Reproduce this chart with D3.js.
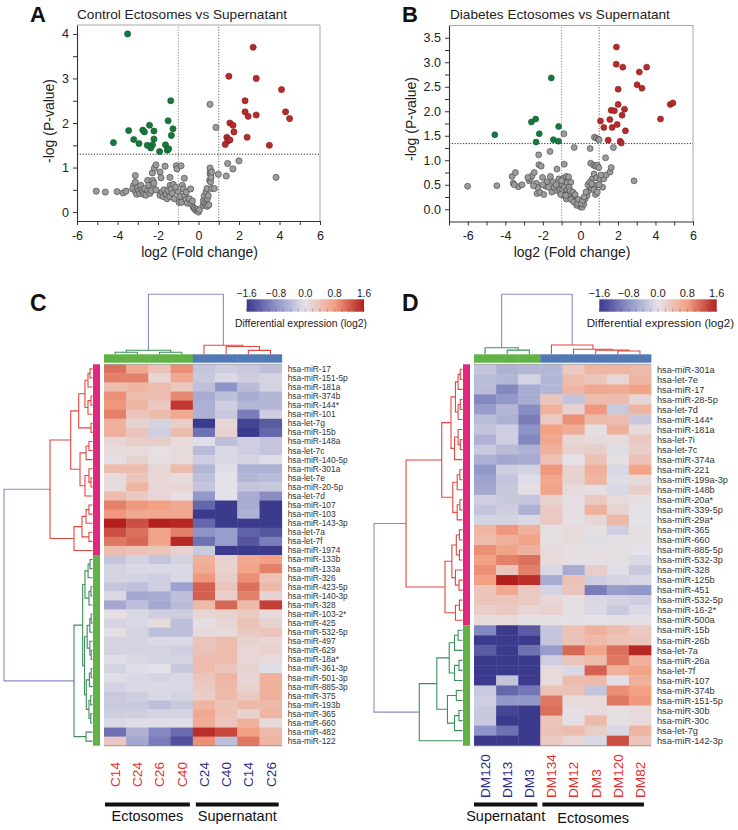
<!DOCTYPE html>
<html><head><meta charset="utf-8">
<script src="https://cdn.jsdelivr.net/npm/d3@7"></script>
<style>
body{margin:0;background:#fff}
svg{display:block}
text{font-family:"Liberation Sans",Arial,sans-serif}
</style></head>
<body><svg id="fig" width="738" height="830"></svg>
<script>
// ---------------- DATA ----------------
// Volcano A: Control Ectosomes vs Supernatant  [log2 FC, -log P]
const aUp = [[2.7,3.7],[1.5,3.05],[2.85,3.0],[4.1,2.75],[2.3,2.5],[2.3,2.25],[2.45,2.15],[2.85,2.18],[4.3,2.25],[4.5,2.1],[1.55,2.0],[1.7,1.95],[1.75,1.8],[1.4,1.68],[1.45,1.6],[1.55,1.62],[1.32,1.52],[2.4,1.68],[3.5,1.5]];
const aDown = [[-3.5,4.0],[-1.37,2.5],[-2.42,1.95],[-1.5,2.05],[-3.45,1.83],[-2.75,1.84],[-2.67,1.8],[-2.2,1.82],[-1.26,1.87],[-4.2,1.56],[-3.2,1.63],[-2.94,1.54],[-2.2,1.64],[-1.34,1.72],[-2.53,1.5],[-2.27,1.51],[-2.36,1.44],[-1.63,1.51],[-1.92,1.36],[-1.54,1.39],[-1.47,1.42]];
const aNS = [[-5.05,0.47],[-4.6,0.45],[-4.02,0.46],[-3.72,0.43],[-3.58,0.47],[-3.12,0.82],[-3.2,0.6],[-3.12,0.67],[-3.25,0.52],[-3.1,0.45],[-3.0,0.55],[-3.05,0.4],[-2.95,0.48],[-2.85,0.6],[-2.9,0.42],[-2.8,0.5],[-2.75,0.45],[-2.7,0.4],[-2.65,0.53],[-2.6,0.38],[-2.51,0.71],[-2.5,0.48],[-2.45,0.6],[-2.4,0.42],[-2.26,0.71],[-2.28,0.88],[-2.25,0.55],[-2.32,0.48],[-2.18,0.99],[-2.1,1.06],[-2.2,0.65],[-2.1,0.5],[-1.9,0.9],[-1.9,0.38],[-1.85,0.77],[-1.8,0.45],[-1.75,0.35],[-1.7,0.5],[-1.65,1.03],[-1.6,0.4],[-1.55,0.3],[-1.5,0.48],[-1.41,0.78],[-1.4,0.6],[-1.42,0.35],[-1.35,0.52],[-1.3,0.42],[-1.25,0.62],[-1.2,0.3],[-1.13,0.56],[-1.1,1.04],[-1.06,0.97],[-1.0,0.45],[-0.96,0.22],[-0.9,0.35],[-0.86,1.04],[-0.83,0.22],[-0.8,0.6],[-0.75,0.52],[-0.7,0.76],[-0.67,0.37],[-0.62,0.28],[-0.6,0.45],[-0.55,0.2],[-0.45,0.3],[-0.39,0.52],[-0.37,0.19],[-0.3,0.25],[-0.26,0.11],[-0.2,0.08],[-0.14,0.04],[-0.08,0.06],[-0.03,0.02],[0.0,0.0],[0.05,0.05],[0.22,0.15],[0.24,0.26],[0.28,0.36],[0.3,0.2],[0.36,0.16],[0.37,0.45],[0.42,0.13],[0.42,0.53],[0.44,0.3],[0.48,0.37],[0.51,0.16],[0.55,0.71],[0.6,0.68],[0.57,0.86],[0.6,0.92],[0.57,0.99],[0.62,0.78],[0.65,0.9],[0.65,0.53],[0.78,0.53],[0.98,0.85],[1.37,0.81],[1.44,1.09],[1.7,0.97],[2.0,1.15],[3.83,0.78],[0.57,2.42],[0.86,1.9]];

// Volcano B: Diabetes Ectosomes vs Supernatant
const bUp = [[1.92,3.31],[1.91,2.96],[2.26,2.9],[3.53,2.9],[3.14,2.8],[3.02,2.54],[3.28,2.47],[2.01,2.45],[4.79,2.14],[4.93,2.17],[2.01,2.14],[1.64,2.02],[1.81,2.01],[2.35,2.04],[2.22,1.92],[4.27,1.84],[1.07,1.8],[1.57,1.83],[1.96,1.73],[1.25,1.67],[1.69,1.67],[2.4,1.6],[1.48,1.41],[2.12,1.39],[2.18,1.35]];
const bDown = [[-4.56,1.52],[-1.55,2.68],[-2.61,1.78],[-2.38,1.84],[-2.19,1.54],[-2.36,1.37],[-1.16,1.69],[-1.44,1.42],[-1.17,1.39]];
const bNS = [[-6.01,0.47],[-4.45,0.48],[-3.64,0.67],[-3.46,0.75],[-3.58,0.53],[-3.3,0.46],[-3.11,0.5],[-2.73,0.58],[-2.66,0.62],[-2.58,0.68],[-2.46,0.75],[-2.34,0.53],[-2.27,0.44],[-2.31,0.32],[-2.15,0.34],[-2.22,1.11],[-2.21,0.91],[-2.09,0.88],[-2.02,0.65],[-1.62,1.18],[-1.85,0.47],[-1.78,0.56],[-1.6,0.67],[-1.46,0.56],[-1.52,0.35],[-1.25,0.82],[-1.25,0.38],[-1.14,0.62],[-0.98,0.49],[-0.88,1.54],[-0.86,0.92],[-0.89,0.64],[-0.8,0.35],[-0.75,0.67],[-0.72,0.54],[-0.63,0.66],[-0.51,0.55],[-0.92,0.29],[-0.75,0.21],[-0.54,0.3],[-0.45,0.22],[-0.33,1.26],[-0.33,0.25],[-0.22,0.17],[-0.09,0.1],[0.0,0.05],[0.09,0.04],[0.18,0.1],[0.25,0.21],[0.36,0.28],[0.45,0.38],[0.52,1.24],[0.55,0.94],[0.58,0.44],[0.63,0.62],[0.69,0.49],[0.73,0.72],[0.75,1.47],[0.85,1.45],[0.95,1.43],[1.0,1.42],[0.7,0.9],[0.8,0.88],[0.9,0.9],[0.98,0.85],[0.83,0.48],[0.86,0.64],[1.05,0.61],[1.18,0.45],[1.25,0.62],[1.37,0.7],[1.58,0.76],[1.64,0.85],[1.34,1.05],[1.76,1.26],[2.86,0.58],[-1.4,0.45],[-1.3,0.5],[-1.1,0.4],[-1.0,0.58],[-0.95,0.4],[-0.85,0.45],[-0.7,0.4],[-0.65,0.3],[-0.6,0.45],[-0.55,0.38],[-0.5,0.2],[-0.4,0.35],[-0.35,0.15],[-0.28,0.3],[-0.2,0.08],[-0.15,0.12],[-0.1,0.2],[0.05,0.12],[0.12,0.18],[0.2,0.25],[0.3,0.35],[0.4,0.5],[0.5,0.55],[0.6,0.52],[0.72,0.4],[0.8,0.3],[0.9,0.35],[1.0,0.5],[1.1,0.7],[-2.5,0.48],[-2.0,0.5],[-1.95,0.3],[-1.7,0.45],[-3.52,0.5],[-2.8,0.65],[-1.05,0.3],[-0.78,0.28]];

// Heatmap C
const cRows = ["hsa-miR-17","hsa-miR-151-5p","hsa-miR-181a","hsa-miR-374b","hsa-miR-144*","hsa-miR-101","hsa-let-7g","hsa-miR-15b","hsa-miR-148a","hsa-let-7c","hsa-miR-140-5p","hsa-miR-301a","hsa-let-7e","hsa-miR-20-5p","hsa-let-7d","hsa-miR-107","hsa-miR-103","hsa-miR-143-3p","hsa-let-7a","hsa-let-7f","hsa-miR-1974","hsa-miR-133b","hsa-miR-133a","hsa-miR-326","hsa-miR-423-5p","hsa-miR-140-3p","hsa-miR-328","hsa-miR-103-2*","hsa-miR-425","hsa-miR-532-5p","hsa-miR-497","hsa-miR-629","hsa-miR-18a*","hsa-miR-361-3p","hsa-miR-501-3p","hsa-miR-885-3p","hsa-miR-375","hsa-miR-193b","hsa-miR-365","hsa-miR-660","hsa-miR-482","hsa-miR-122"];
const cCols = ["C14","C24","C26","C40","C24","C40","C14","C26"];
const cColGroups = ["Ectosomes","Ectosomes","Ectosomes","Ectosomes","Supernatant","Supernatant","Supernatant","Supernatant"];
const cRowClusterSize = [21, 21];
const cValues = [
[1.1,0.7,0.4,0.9,-0.3,-0.2,-0.25,-0.35],
[1.0,1.0,0.15,0.7,-0.25,-0.1,-0.2,-0.15],
[0.45,0.55,0.45,0.3,-0.35,-0.8,-0.4,-0.15],
[0.9,0.45,0.45,0.95,-0.55,-0.35,-0.55,-0.45],
[0.85,0.55,0.3,1.45,-0.5,-0.2,-0.45,-0.45],
[1.0,0.35,0.45,0.7,-0.5,-0.25,-1.0,-0.2],
[0.6,0.2,-0.15,0.25,-1.6,0.15,-1.5,-1.3],
[0.6,0.35,-0.2,0.45,-1.1,0.2,-1.6,-1.2],
[0.15,0.25,0.25,0.1,-0.05,-0.35,-0.2,-0.3],
[0.1,0.1,0.05,0.1,-0.4,-0.1,-0.2,-0.3],
[0.05,0.2,0.05,0.1,-0.2,-0.1,-0.15,-0.05],
[0.45,0.45,0.15,0.45,-0.45,-0.05,-0.5,-0.5],
[0.1,0.35,0.15,0.1,-0.35,0.0,-0.45,-0.4],
[0.1,0.55,0.15,0.15,-0.3,0.0,-0.3,-0.25],
[0.45,0.3,0.15,0.05,-0.75,0.0,-0.55,-0.85],
[1.0,0.85,0.8,0.7,-1.2,-1.6,-0.55,-1.6],
[0.85,0.7,0.7,0.7,-1.6,-1.6,-0.5,-1.6],
[1.6,1.3,1.6,1.55,-1.2,-1.6,-1.6,-1.6],
[1.3,1.1,0.75,1.0,-0.8,-0.7,-1.25,-1.35],
[1.05,1.15,0.75,1.55,-1.1,-0.7,-1.35,-1.0],
[0.45,0.4,0.35,0.2,-0.25,-1.6,-1.6,-1.6],
[-0.3,-0.15,-0.3,-0.15,0.6,0.2,0.7,0.8],
[-0.15,-0.1,-0.1,-0.1,0.65,0.2,0.75,1.0],
[-0.15,-0.15,-0.2,-0.1,0.85,0.25,0.9,0.4],
[-0.3,-0.35,-0.2,-0.65,1.2,0.35,1.1,0.5],
[-0.1,-0.6,-0.55,-0.35,1.2,0.25,1.0,0.2],
[-0.6,-0.35,-0.6,-0.4,0.5,1.15,0.5,1.4],
[0.05,-0.1,-0.2,-0.2,0.15,0.2,0.3,0.1],
[-0.15,-0.1,0.1,-0.35,0.05,0.15,0.4,0.2],
[0.05,-0.15,-0.35,-0.35,0.1,0.1,0.3,0.35],
[-0.15,-0.15,-0.1,-0.1,0.35,0.45,0.2,0.15],
[-0.15,-0.15,-0.15,-0.2,0.4,0.45,0.15,0.2],
[-0.05,-0.1,-0.15,-0.15,0.45,0.45,0.15,0.1],
[-0.15,-0.05,0.0,-0.25,0.45,0.35,0.2,-0.05],
[-0.05,-0.1,-0.15,-0.1,0.35,0.55,0.15,0.6],
[-0.15,-0.1,-0.1,-0.1,0.3,0.5,0.2,0.6],
[-0.25,-0.2,-0.1,-0.15,0.25,0.5,0.3,0.6],
[-0.25,-0.25,-0.35,-0.25,0.55,0.4,0.5,0.5],
[-0.2,-0.2,-0.15,-0.15,0.7,0.4,0.2,0.55],
[-0.1,-0.05,-0.05,-0.05,0.65,0.35,0.6,0.1],
[-1.1,-0.5,-0.9,-1.15,1.5,1.35,0.8,0.5],
[0.3,-0.6,-1.0,-1.4,0.9,-0.35,1.05,0.55]];
// row dendrogram C: [height, left, right], leaves = row number (1-based)
const cRowTree = [1.0,
  [0.48,
    [0.246,
      [0.156, [0.085,[0.051,[0.028,1,2],3],[0.051,[0.017,4,5],6]], [0.017,7,8]],
      [0.141, [0.073,[0.04,9,10],11], [0.085,[0.04,12,[0.017,13,14]],15]]],
    [0.209, [0.119,[0.073,[0.04,16,17],18],[0.04,19,20]], 21]],
  [0.209,
    [0.111,
      [0.085,[0.05,[0.028,22,23],24],[0.04,[0.017,25,26],27]],
      [0.09,[0.06,[0.03,[0.015,28,29],30],[0.03,31,[0.015,32,33]]],[0.07,[0.035,[0.015,34,35],36],[0.04,[0.02,37,38],[0.02,39,40]]]]],
    [0.073,41,42]]];
const cColTree = [1.0, [0.067,[0.033,1,2],[0.033,3,4]], [0.15,5,[0.13,6,[0.065,7,8]]]];

// Heatmap D
const dRows = ["hsa-miR-301a","hsa-let-7e","hsa-miR-17","hsa-miR-28-5p","hsa-let-7d","hsa-miR-144*","hsa-miR-181a","hsa-let-7i","hsa-let-7c","hsa-miR-374a","hsa-miR-221","hsa-miR-199a-3p","hsa-miR-148b","hsa-miR-20a*","hsa-miR-339-5p","hsa-miR-29a*","hsa-miR-365","hsa-miR-660","hsa-miR-885-5p","hsa-miR-532-3p","hsa-miR-328","hsa-miR-125b","hsa-miR-451","hsa-miR-532-5p","hsa-miR-16-2*","hsa-miR-500a","hsa-miR-15b","hsa-miR-26b","hsa-let-7a","hsa-miR-26a","hsa-let-7f","hsa-miR-107","hsa-miR-374b","hsa-miR-151-5p","hsa-miR-30b","hsa-miR-30c","hsa-let-7g","hsa-miR-142-3p"];
const dCols = ["DM120","DM13","DM3","DM134","DM12","DM3","DM120","DM82"];
const dColGroups = ["Supernatant","Supernatant","Supernatant","Ectosomes","Ectosomes","Ectosomes","Ectosomes","Ectosomes"];
const dRowClusterSize = [26, 12];
const dValues = [
[-0.3,-0.5,-0.45,-0.45,0.3,0.55,0.55,0.5],
[-0.4,-0.45,-0.15,-0.45,0.45,0.35,0.15,0.55],
[-0.4,-0.9,-0.55,-0.45,0.55,0.7,0.65,0.75],
[-0.9,-0.75,-0.55,0.35,-0.3,0.45,0.45,0.15],
[-0.7,-0.45,-0.85,0.6,0.2,0.85,-0.25,0.55],
[-0.4,-0.5,-1.0,0.3,0.9,0.5,0.45,-0.25],
[-0.3,-0.2,-0.8,0.8,0.65,0.05,0.6,0.1],
[-0.5,-0.2,-0.9,0.7,0.15,0.1,0.1,0.3],
[-0.25,-0.4,-0.5,0.6,0.2,0.25,-0.05,0.25],
[-0.5,-0.6,-0.55,0.4,0.0,0.4,0.05,0.4],
[-0.75,-0.2,-0.15,0.85,0.2,0.6,-0.1,0.75],
[-0.65,-0.3,-0.05,0.7,0.2,0.55,-0.05,0.1],
[-0.6,-0.25,0.05,0.75,0.1,0.05,-0.1,0.25],
[-0.2,-0.25,-0.3,0.2,0.05,0.3,0.1,0.05],
[-0.3,-0.2,-0.5,0.3,0.05,0.6,0.2,0.0],
[-0.15,-0.15,-0.1,0.3,0.05,0.15,0.5,0.0],
[0.55,0.85,0.6,0.05,0.1,0.05,-0.2,0.05],
[0.45,0.6,0.75,0.05,0.1,-0.05,0.05,0.05],
[0.9,0.75,0.6,0.1,0.05,0.05,0.05,0.0],
[0.8,1.0,1.1,0.1,0.05,0.05,0.05,-0.1],
[0.9,0.35,1.0,-0.1,-0.55,0.25,-0.05,-0.25],
[0.8,1.6,1.5,-0.55,0.4,-0.2,-0.15,-0.1],
[0.35,0.7,0.3,-0.15,0.35,-1.0,-0.7,-0.75],
[0.35,0.35,0.3,0.15,0.05,-0.1,-0.15,-0.2],
[0.25,0.3,0.15,0.2,0.05,-0.1,-0.25,-0.1],
[0.1,0.1,0.05,0.05,0.05,0.0,0.05,0.05],
[-0.9,-1.6,-1.3,-0.3,0.4,0.6,0.45,0.3],
[-1.6,-1.6,-1.6,-0.3,0.4,0.5,0.4,0.35],
[-1.3,-1.6,-1.1,-0.7,1.15,0.75,1.1,1.55],
[-1.6,-1.6,-1.6,-0.2,0.35,0.45,1.05,0.6],
[-1.6,-1.6,-1.6,0.1,-0.1,1.2,0.6,0.75],
[-1.6,-0.3,-1.6,0.1,0.45,0.5,0.05,0.6],
[-0.25,-1.2,-1.05,0.4,0.4,-0.3,0.9,0.8],
[-0.2,-0.75,-0.75,1.05,0.1,0.1,1.05,0.85],
[-0.25,-1.5,-1.6,1.1,0.05,0.1,0.05,0.1],
[-0.25,-1.6,-1.6,0.35,0.05,0.5,0.05,0.1],
[-0.8,-1.1,-1.6,0.4,0.45,0.25,-0.1,0.55],
[-1.6,-1.6,-1.6,0.3,0.15,-0.1,1.3,0.35]];
const dRowTree = [1.0,
  [0.638,
    [0.235,
      [0.13,[0.08,[0.05,[0.025,1,2],3],[0.05,[0.025,4,5],6]],[0.09,[0.05,7,[0.025,8,9]],10]],
      [0.11,[0.06,[0.03,11,12],13],[0.06,[0.03,14,15],16]]],
    [0.198,
      [0.12,[0.07,[0.035,17,18],[0.035,19,20]],[0.08,21,[0.04,22,23]]],
      [0.08,[0.035,24,25],26]]],
  [0.488,
    [0.29,
      [0.15,[0.09,[0.05,27,28],29],[0.09,[0.04,30,31],32]],
      [0.17,[0.07,33,34],[0.09,[0.04,35,36],37]]],
    38]];
const dColTree = [1.0, [0.11,1,[0.07,2,3]], [0.155,4,[0.083,5,[0.07,6,[0.055,7,8]]]]];

const legendTicks = [-1.6,-0.8,0.0,0.8,1.6];

// ---------------- STYLE ----------------
const RED_PT="#b82b2b", GREEN_PT="#17773c", GRAY_PT="#9c9c9c";
const heatColor = d3.scaleLinear().domain([-1.6,-0.8,0,0.8,1.6])
  .range(["#3c3a8d","#8e93c8","#e4e2e8","#f3a083","#b31f1d"]).clamp(true);
const ROOT_C="#8a8cc6", RED_C="#e2483f", GREEN_C="#3d8f5c";
const GRP_GREEN="#62b247", GRP_BLUE="#5379b4", PINK="#e0287f";
const LBL_RED="#e3302d", LBL_BLUE="#2d2d86";

const svg = d3.select("#fig");

// ---------------- VOLCANO ----------------
function volcano(o){
  const g = svg.append("g");
  const x = d3.scaleLinear().domain(o.xd).range(o.xr);
  const y = d3.scaleLinear().domain(o.yd).range(o.yr);
  g.append("path").attr("d",`M${o.xr[0]},${o.yr[1]}H${o.xr[1]}V${o.yr[0]}`)
    .attr("fill","none").attr("stroke","#a8a8a8").attr("stroke-width",1);
  const dash="1.2,1.6";
  g.append("line").attr("x1",x(-1)).attr("x2",x(-1)).attr("y1",o.yr[0]).attr("y2",o.yr[1]).attr("stroke","#8a8a8a").attr("stroke-dasharray",dash);
  g.append("line").attr("x1",x(1)).attr("x2",x(1)).attr("y1",o.yr[0]).attr("y2",o.yr[1]).attr("stroke","#666").attr("stroke-dasharray",dash);
  g.append("line").attr("x1",o.xr[0]).attr("x2",o.xr[1]).attr("y1",y(o.thr)).attr("y2",y(o.thr)).attr("stroke","#333").attr("stroke-dasharray",dash);
  const xa = d3.axisBottom(x).tickValues(o.xticks).tickSize(4).tickSizeOuter(0)
    .tickFormat(d=> d%2===0 ? d : "");
  const ya = d3.axisLeft(y).tickValues(o.yticks).tickSize(4).tickSizeOuter(0)
    .tickFormat(o.yfmt);
  const gx = g.append("g").attr("transform",`translate(0,${o.yr[0]})`).call(xa);
  const gy = g.append("g").attr("transform",`translate(${o.xr[0]},0)`).call(ya);
  [gx,gy].forEach(a=>{
    a.select(".domain").attr("stroke","#333").attr("stroke-width",1.1);
    a.selectAll(".tick line").attr("stroke","#333");
    a.selectAll("text").attr("font-size",12.5).attr("fill","#222").style("font-family","Liberation Sans, Arial, sans-serif");
  });
  gx.selectAll("text").attr("dy","0.95em");
  gy.selectAll("text").attr("dx","-1");
  const sets = [[o.ns,GRAY_PT,"#404040"],[o.down,GREEN_PT,"#0f5a2b"],[o.up,RED_PT,"#7e1a1a"]];
  sets.forEach(([data,fill,stroke])=>{
    g.append("g").selectAll("circle").data(data).join("circle")
      .attr("cx",d=>x(d[0])).attr("cy",d=>y(d[1])).attr("r",o.r)
      .attr("fill",fill).attr("stroke",stroke).attr("stroke-width",0.6);
  });
  g.append("text").attr("x",(o.xr[0]+o.xr[1])/2+1).attr("y",257).attr("text-anchor","middle")
    .attr("font-size",14).attr("fill","#222").text("log2 (Fold change)");
  g.append("text").attr("transform",`translate(${o.ylx},${o.yly}) rotate(-90)`).attr("text-anchor","middle")
    .attr("font-size",14).attr("fill","#222").text("-log (P-value)");
  g.append("text").attr("x",o.tx).attr("y",18.5).attr("font-size",13.6).attr("fill","#222").text(o.title);
  g.append("text").attr("x",o.lx).attr("y",22).attr("font-size",22).attr("font-weight","bold").attr("fill","#111").text(o.letter);
}

volcano({xd:[-6,6], xr:[77,320], yd:[-0.2,4.2], yr:[221,25], thr:1.3,
  xticks:d3.range(-6,7,1), yticks:d3.range(0,4.01,0.5), yfmt:d=>Number.isInteger(d)?d:"",
  up:aUp, down:aDown, ns:aNS, r:3.1, title:"Control Ectosomes vs Supernatant", tx:77,
  letter:"A", lx:30, ylx:54, yly:121});
volcano({xd:[-7,6], xr:[449,693], yd:[-0.25,3.75], yr:[221.5,25.5], thr:1.34,
  xticks:d3.range(-7,7,1), yticks:d3.range(0,3.51,0.25), yfmt:d=>(Math.round(d*100)%50===0)?d3.format(".1f")(d):"",
  up:bUp, down:bDown, ns:bNS, r:3.0, title:"Diabetes Ectosomes vs Supernatant", tx:450,
  letter:"B", lx:402, ylx:416, yly:119});

// ---------------- DENDROGRAM ----------------
function layoutTree(t, leafPos){
  if (typeof t === "number") return {h:0, pos:leafPos(t)};
  const L = layoutTree(t[1], leafPos), R = layoutTree(t[2], leafPos);
  return {h:t[0], pos:(L.pos+R.pos)/2, children:[L,R]};
}
function drawDendro(g, tree, leafPos, hPix, rowwise, clusterColors){
  const root = layoutTree(tree, leafPos);
  const P = (pos,h)=> rowwise ? [hPix(h),pos] : [pos,hPix(h)];
  function seg(n, color){
    if(!n.children) return;
    const [a,b] = n.children;
    const p1=P(a.pos,n.h), p2=P(b.pos,n.h), c1=P(a.pos,a.h), c2=P(b.pos,b.h);
    g.append("path").attr("d",`M${c1[0]},${c1[1]}L${p1[0]},${p1[1]}L${p2[0]},${p2[1]}L${c2[0]},${c2[1]}`)
      .attr("fill","none").attr("stroke",color).attr("stroke-width",1.1);
  }
  function rec(n,color){ if(!n.children) return; seg(n,color); n.children.forEach(c=>rec(c,color)); }
  seg(root, ROOT_C);
  rec(root.children[0], clusterColors[0]);
  rec(root.children[1], clusterColors[1]);
}

// ---------------- HEATMAP ----------------
function heatmap(o){
  const g = svg.append("g");
  const x = d3.scaleBand().domain(d3.range(o.cols.length)).range([o.x0,o.x1]);
  const y = d3.scaleBand().domain(d3.range(o.rows.length)).range([o.y0,o.y1]);
  o.values.forEach((row,i)=>{
    g.append("g").selectAll("rect").data(row).join("rect")
      .attr("x",(d,j)=>x(j)).attr("y",y(i)).attr("width",x.bandwidth()+0.4).attr("height",y.bandwidth()+0.4)
      .attr("fill",d=>heatColor(d));
  });
  g.append("line").attr("x1",o.x0).attr("x2",o.x1).attr("y1",o.y0).attr("y2",o.y0).attr("stroke","#999").attr("stroke-width",0.8);
  g.append("line").attr("x1",o.x0).attr("x2",o.x1).attr("y1",o.y1).attr("y2",o.y1).attr("stroke","#8a8a8a").attr("stroke-width",0.8);
  o.groups.forEach((gr,j)=>{
    g.append("rect").attr("x",x(j)).attr("y",o.y0-10).attr("width",x.bandwidth()+0.4).attr("height",8.4)
      .attr("fill", gr===o.greenGroup ? GRP_GREEN : GRP_BLUE);
  });
  const n1 = o.clusterSizes[0];
  g.append("rect").attr("x",o.sideX).attr("y",o.y0).attr("width",7).attr("height",y(n1)-o.y0).attr("fill",PINK);
  g.append("rect").attr("x",o.sideX).attr("y",y(n1)).attr("width",7).attr("height",o.y1-y(n1)).attr("fill",GRP_GREEN);
  g.append("g").selectAll("text").data(o.rows).join("text")
    .attr("x",o.x1+6).attr("y",(d,i)=>y(i)+y.bandwidth()/2).attr("dy","0.35em")
    .attr("font-size",o.rowFont).attr("fill","#333").text(d=>d);
  g.append("g").selectAll("text").data(o.cols).join("text")
    .attr("transform",(d,j)=>`translate(${x(j)+x.bandwidth()/2},${o.colLabBottom}) rotate(-90)`)
    .attr("dy","0.36em").attr("text-anchor","start").attr("font-size",o.colFont)
    .attr("fill",(d,j)=> o.groups[j]==="Ectosomes" ? LBL_RED : LBL_BLUE).text(d=>d);
  o.groupBars.forEach(b=>{
    const xa = x(b.from)+b.padL, xb = x(b.to)+x.bandwidth()-b.padR;
    g.append("rect").attr("x",xa).attr("y",802.5).attr("width",xb-xa).attr("height",4).attr("fill","#111");
    g.append("text").attr("x",(xa+xb)/2).attr("y",b.ty).attr("text-anchor","middle").attr("font-size",o.grpFont).attr("fill","#111").text(b.name);
  });
  const rowPos = r => y(r-1)+y.bandwidth()/2;
  drawDendro(g, o.rowTree, rowPos, d3.scaleLinear().domain([0,1]).range([o.sideX-0.5,o.rootX]), true, [RED_C,GREEN_C]);
  const colPos = c => x(c-1)+x.bandwidth()/2;
  drawDendro(g, o.colTree, colPos, d3.scaleLinear().domain([0,1]).range([o.y0-10,294.3]), false, o.colClusterColors);
  // legend
  const lx = d3.scaleLinear().domain([-1.6,1.6]).range([o.legX0,o.legX1]);
  const gid = "grad"+o.letter;
  const grad = svg.append("defs").append("linearGradient").attr("id",gid);
  d3.range(-1.6,1.601,0.2).forEach(v=>{
    grad.append("stop").attr("offset",((v+1.6)/3.2*100)+"%").attr("stop-color",heatColor(v));
  });
  g.append("rect").attr("x",o.legX0).attr("y",299.3).attr("width",o.legX1-o.legX0).attr("height",12.4).attr("fill",`url(#${gid})`);
  d3.range(-1.6,1.601,0.2).forEach(v=>{
    g.append("line").attr("x1",lx(v)).attr("x2",lx(v)).attr("y1",311.7).attr("y2",308.7).attr("stroke","rgba(40,40,60,0.45)").attr("stroke-width",0.7);
  });
  g.append("g").selectAll("text").data(legendTicks).join("text")
    .attr("x",d=>lx(d)).attr("y",296.5).attr("text-anchor","middle").attr("font-size",o.legFont).attr("fill","#222")
    .text(d=>d3.format(".1f")(d));
  g.append("text").attr("x",o.capX).attr("y",326.5).attr("font-size",o.capFont).attr("fill","#222").text("Differential expression (log2)");
  g.append("text").attr("x",o.letterX).attr("y",311).attr("font-size",23).attr("font-weight","bold").attr("fill","#111").text(o.letter);
}

heatmap({letter:"C", letterX:30, x0:104, x1:281.7, y0:364.3, y1:745.7,
  rows:cRows, cols:cCols, values:cValues, groups:cColGroups, greenGroup:"Ectosomes",
  clusterSizes:cRowClusterSize, sideX:93, rootX:4, rowTree:cRowTree, colTree:cColTree,
  colClusterColors:[GREEN_C,RED_C], rowFont:8.4, colFont:13.6, grpFont:14.5, colLabBottom:787,
  groupBars:[{name:"Ectosomes",from:0,to:3,padL:1,padR:3,ty:821},{name:"Supernatant",from:4,to:7,padL:3,padR:3,ty:821}],
  legX0:246.7, legX1:364, capX:235, capFont:10.4, legFont:10.2});
heatmap({letter:"D", letterX:402, x0:474, x1:651, y0:364.3, y1:745.7,
  rows:dRows, cols:dCols, values:dValues, groups:dColGroups, greenGroup:"Supernatant",
  clusterSizes:dRowClusterSize, sideX:463, rootX:374, rowTree:dRowTree, colTree:dColTree,
  colClusterColors:[GREEN_C,RED_C], rowFont:9.2, colFont:13.6, grpFont:14.5, colLabBottom:798,
  groupBars:[{name:"Supernatant",from:0,to:2,padL:0,padR:3,ty:820.5},{name:"Ectosomes",from:3,to:7,padL:2,padR:7,ty:823}],
  legX0:599.3, legX1:716.7, capX:586.7, capFont:11.6, legFont:11});
</script>
</body></html>
